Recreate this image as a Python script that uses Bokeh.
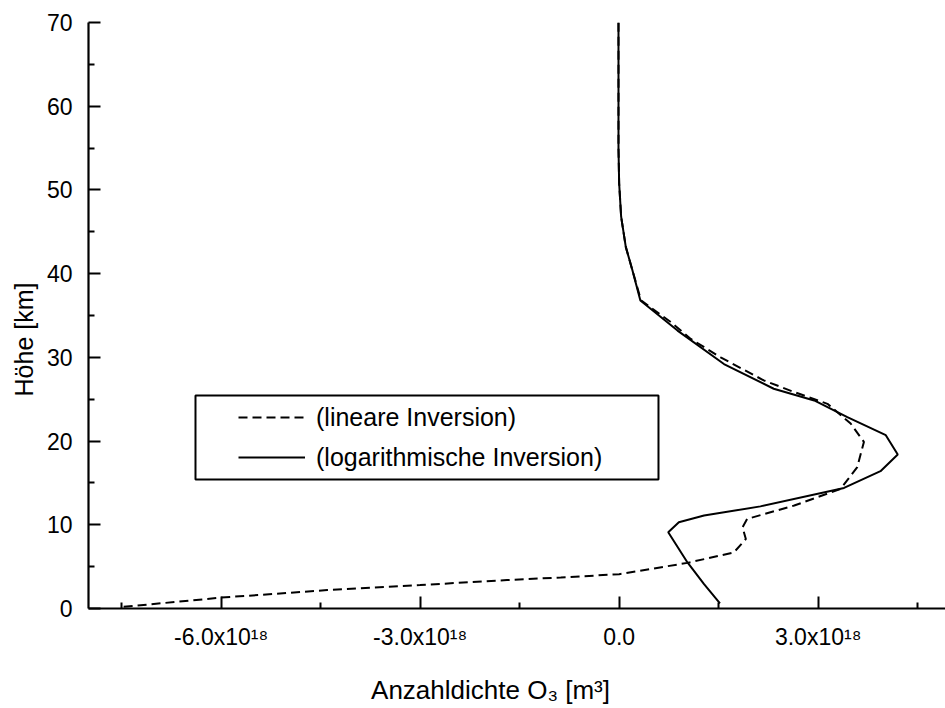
import math
from bokeh.plotting import figure
from bokeh.models import (Range1d, FixedTicker, Label, Legend, LegendItem,
                          BoxAnnotation)
from bokeh.embed import file_html
from bokeh.resources import INLINE

# ---- data (x in units of 1e18 m^-3, y = altitude km) ----
log_x = [1.52, 1.28, 1.03, 0.74, 0.90, 1.28, 2.13, 3.39, 3.94, 4.20, 4.02, 3.44,
         2.94, 2.33, 1.58, 0.88, 0.32, 0.20, 0.10, 0.03, 0.0, -0.01, -0.01]
log_y = [0.6, 2.9, 5.5, 9.1, 10.3, 11.1, 12.2, 14.4, 16.4, 18.4, 20.7, 22.85,
         24.85, 26.25, 29.2, 33.2, 36.8, 40.4, 43.2, 46.8, 50.8, 55.0, 70.0]

lin_x = [-7.47, -6.0, -4.40, -3.0, -1.69, -0.88, 0.0, 1.03, 1.73, 1.91, 1.86, 1.93,
         2.64, 3.34, 3.59, 3.69, 3.49, 3.14, 2.64, 2.18, 1.53, 1.08, 0.78, 0.33,
         0.20, 0.10, 0.03, 0.0, -0.01, -0.01]
lin_y = [0.2, 1.3, 2.2, 2.8, 3.4, 3.7, 4.1, 5.45, 6.7, 8.3, 9.7, 10.7,
         12.3, 14.3, 16.9, 19.9, 22.1, 24.45, 25.85, 27.25, 30.0, 32.2, 34.2, 36.8,
         40.4, 43.2, 46.8, 50.8, 55.0, 70.0]

x_ticks = [-6, -3, 0, 3]
x_minor = [-7.5, -4.5, -1.5, 1.5, 4.5]
x_tick_labels = ["-6.0x10\u00b9\u2078", "-3.0x10\u00b9\u2078", "0.0", "3.0x10\u00b9\u2078"]
y_ticks = [0, 10, 20, 30, 40, 50, 60, 70]
y_minor = [5, 15, 25, 35, 45, 55, 65]

series_labels = ["(lineare Inversion)", "(logarithmische Inversion)"]
x_title = "Anzahldichte O\u2083 [m\u00b3]"
y_title = "Höhe [km]"
FONT = "Liberation Sans"

p = figure(width=945, height=708, output_backend="svg", toolbar_location=None,
           x_range=Range1d(-8.0, 4.92), y_range=Range1d(0, 70),
           min_border_left=88, min_border_right=0, min_border_top=22,
           min_border_bottom=100)
p.outline_line_color = None
p.grid.visible = False
p.background_fill_color = "white"
p.border_fill_color = "white"

# axes
for ax in (p.xaxis[0], p.yaxis[0]):
    ax.axis_line_width = 2.2
    ax.axis_line_color = "black"
    ax.major_tick_in = 12
    ax.major_tick_out = 0
    ax.minor_tick_in = 6
    ax.minor_tick_out = 0
    ax.major_tick_line_width = 2
    ax.minor_tick_line_width = 2
    ax.major_tick_line_color = "black"
    ax.minor_tick_line_color = "black"
    ax.major_label_text_font = FONT
    ax.major_label_text_font_size = "23px"
    ax.major_label_text_color = "black"

p.xaxis.ticker = FixedTicker(ticks=x_ticks, minor_ticks=x_minor)
p.xaxis.major_label_overrides = {t: s for t, s in zip(x_ticks, x_tick_labels)}
p.xaxis.major_label_standoff = 15
p.yaxis.ticker = FixedTicker(ticks=y_ticks, minor_ticks=y_minor)
p.yaxis.major_label_standoff = 16

# curves
r_lin = p.line(lin_x, lin_y, line_color="black", line_width=2, line_dash="9 5")
r_log = p.line(log_x, log_y, line_color="black", line_width=2)

# axis titles placed in the side panels (not clipped by the frame)
p.add_layout(Label(x=490, y=689, x_units="canvas", y_units="canvas", text=x_title,
                   text_align="center", text_baseline="middle",
                   text_font=FONT, text_font_size="26px", text_color="black"), "below")
p.add_layout(Label(x=23, y=339, x_units="canvas", y_units="canvas", text=y_title,
                   angle=math.pi / 2, text_align="center", text_baseline="middle",
                   text_font=FONT, text_font_size="25px", text_color="black"), "left")

# legend frame
p.add_layout(BoxAnnotation(left=-6.387, right=0.593, bottom=15.41, top=25.44,
                           fill_alpha=0, line_color="black", line_alpha=1.0,
                           line_width=2))

legend = Legend(items=[LegendItem(label=series_labels[0], renderers=[r_lin]),
                       LegendItem(label=series_labels[1], renderers=[r_log])],
                location=(150, 136), padding=0, margin=0,
                border_line_color=None, background_fill_alpha=0,
                glyph_width=67, glyph_height=30, label_height=30,
                label_standoff=11, spacing=10,
                label_text_font=FONT, label_text_font_size="25px",
                label_text_color="black")
p.add_layout(legend)

open("out.html", "w").write(file_html(p, INLINE))
